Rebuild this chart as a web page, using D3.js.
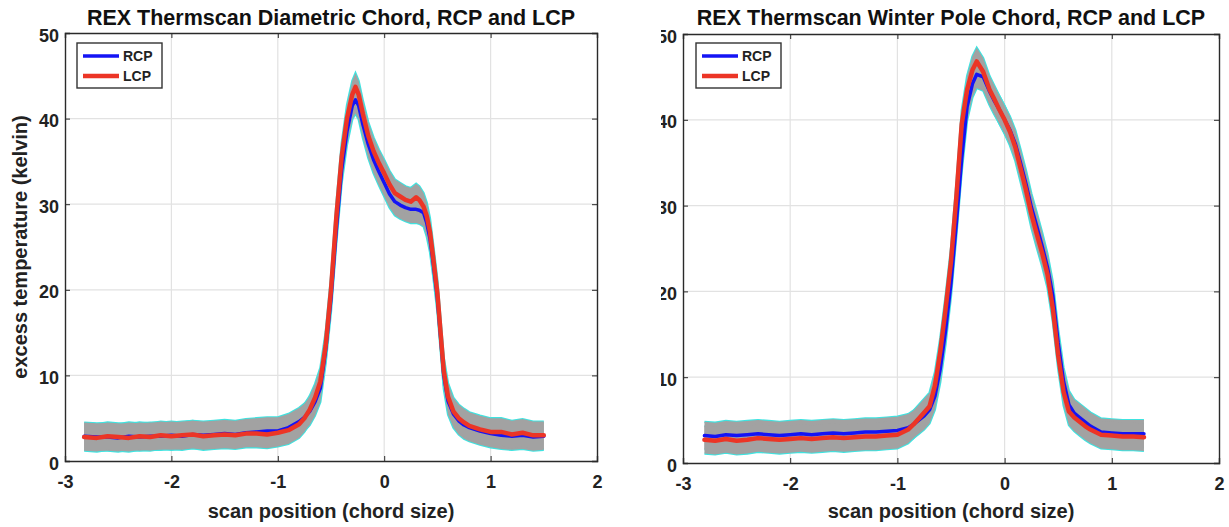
<!DOCTYPE html>
<html>
<head>
<meta charset="utf-8">
<script src="https://cdn.jsdelivr.net/npm/d3@7"></script>
<style>
  html, body { margin: 0; padding: 0; background: #fff; }
  svg { display: block; font-family: "Liberation Sans", Arial, Helvetica, sans-serif; }
</style>
</head>
<body>
<svg id="chart" width="1229" height="527"></svg>
<script>
// ---------- DATA ----------
const xTicks = [-3, -2, -1, 0, 1, 2];
const yTicks = [0, 10, 20, 30, 40, 50];
const seriesNames = ["RCP", "LCP"];
const titles = [
  "REX Thermscan Diametric Chord, RCP and LCP",
  "REX Thermscan Winter Pole Chord, RCP and LCP"
];
const xLabel = "scan position (chord size)";
const yLabel = "excess temperature (kelvin)";
const bandHalfWidth = 1.6; // error-band half width (kelvin)

// Diametric chord
const diaX   = [-2.82,-2.7,-2.6,-2.5,-2.4,-2.3,-2.2,-2.1,-2.0,-1.9,-1.8,-1.7,-1.6,-1.5,-1.4,-1.3,-1.2,-1.1,-1.0,-0.9,-0.8,-0.75,-0.7,-0.65,-0.6,-0.55,-0.5,-0.45,-0.4,-0.35,-0.3,-0.27,-0.24,-0.2,-0.15,-0.1,-0.05,0,0.05,0.1,0.15,0.2,0.25,0.3,0.33,0.37,0.4,0.43,0.46,0.5,0.53,0.56,0.6,0.65,0.7,0.75,0.8,0.9,1.0,1.1,1.2,1.3,1.4,1.5];
const diaRCP = [2.9,2.8,2.8,2.7,2.9,2.8,2.9,2.9,3.0,2.9,3.1,3.0,3.1,3.2,3.1,3.3,3.4,3.5,3.5,3.9,4.6,5.1,5.8,6.9,8.5,13.0,19.0,27.0,34.0,38.5,41.5,42.2,41.5,39.3,37.0,35.2,33.8,32.5,31.2,30.3,29.9,29.6,29.4,29.4,29.3,29.0,27.8,26.0,23.2,19.0,14.5,10.0,7.0,5.5,4.7,4.2,3.9,3.5,3.2,3.0,2.9,3.0,2.8,2.9];
const diaLCP = [2.8,2.7,2.9,2.8,2.7,2.9,2.8,3.0,2.9,3.0,3.1,2.9,3.0,3.1,3.0,3.2,3.2,3.1,3.3,3.6,4.3,5.0,6.0,7.4,9.3,13.5,20.0,28.5,35.5,40.0,42.8,43.7,42.8,40.5,38.0,36.2,34.8,33.6,32.3,31.3,30.9,30.5,30.3,30.8,30.5,29.7,28.6,26.8,23.8,19.6,15.0,10.5,7.5,5.8,5.0,4.5,4.1,3.7,3.4,3.4,3.1,3.3,3.0,3.0];

// Winter pole chord
const wpX   = [-2.8,-2.7,-2.6,-2.5,-2.4,-2.3,-2.2,-2.1,-2.0,-1.9,-1.8,-1.7,-1.6,-1.5,-1.4,-1.3,-1.2,-1.1,-1.0,-0.9,-0.85,-0.8,-0.75,-0.7,-0.65,-0.6,-0.55,-0.5,-0.45,-0.4,-0.35,-0.3,-0.26,-0.2,-0.14,-0.1,-0.05,0,0.05,0.1,0.15,0.2,0.25,0.3,0.35,0.4,0.45,0.5,0.55,0.6,0.65,0.7,0.75,0.8,0.9,1.0,1.1,1.2,1.3];
const wpRCP = [3.2,3.1,3.3,3.2,3.3,3.4,3.3,3.2,3.3,3.4,3.3,3.4,3.5,3.4,3.5,3.6,3.6,3.7,3.8,4.1,4.5,5.0,5.5,6.2,7.8,11.0,15.5,21.0,28.0,35.5,41.5,44.2,45.3,45.0,43.3,42.3,41.2,40.0,38.8,37.2,34.9,32.5,29.8,27.6,25.3,22.8,19.5,14.0,9.5,6.8,5.8,5.3,4.8,4.3,3.6,3.5,3.4,3.4,3.4];
const wpLCP = [2.7,2.6,2.8,2.6,2.7,2.9,2.8,2.7,2.8,2.9,2.8,2.9,3.0,2.9,3.0,3.1,3.1,3.2,3.3,3.9,4.5,5.2,5.9,6.6,9.0,13.0,18.0,23.5,31.0,39.5,43.5,45.8,46.8,45.6,43.5,42.5,41.2,40.0,38.6,36.8,34.3,31.8,29.0,26.7,24.5,22.0,18.0,12.5,8.3,6.0,5.3,4.8,4.3,3.9,3.3,3.2,3.1,3.1,3.0];

// ---------- DRAW ----------
const svg = d3.select("#chart");
const defs = svg.append("defs");
const colors = { RCP: "#1414f5", LCP: "#ec3526" };
const widths = { RCP: 3.5, LCP: 4.5 };
const fmt = d => String(d);

const panels = [
  { title: titles[0], xs: diaX, RCP: diaRCP, LCP: diaLCP, left: 65, right: 597, top: 33, bottom: 461, ylab: true, clipX: null, legX: 77 },
  { title: titles[1], xs: wpX, RCP: wpRCP, LCP: wpLCP, left: 683, right: 1219, top: 34, bottom: 463, ylab: false, clipX: 661, legX: 696 }
];

panels.forEach((p, pi) => {
  const x = d3.scaleLinear().domain([-3, 2]).range([p.left, p.right]);
  const y = d3.scaleLinear().domain([0, 50]).range([p.bottom, p.top]);
  const g = svg.append("g");

  // grid
  g.append("g").selectAll("line").data(xTicks.slice(1, -1)).join("line")
    .attr("x1", d => x(d)).attr("x2", d => x(d)).attr("y1", p.top).attr("y2", p.bottom)
    .attr("stroke", "#e2e2e2").attr("stroke-width", 1.2);
  g.append("g").selectAll("line").data(yTicks.slice(1, -1)).join("line")
    .attr("x1", p.left).attr("x2", p.right).attr("y1", d => y(d)).attr("y2", d => y(d))
    .attr("stroke", "#e2e2e2").attr("stroke-width", 1.2);

  const pts = name => p.xs.map((xv, i) => [xv, p[name][i]]);

  // error bands: cyan edges then gray fill
  seriesNames.forEach(name => {
    const data = pts(name);
    const edge = off => d3.line().x(d => x(d[0])).y(d => y(d[1] + off))(data);
    g.append("path").attr("d", edge(bandHalfWidth)).attr("fill", "none").attr("stroke", "#3fe3e0").attr("stroke-width", 2.2);
    g.append("path").attr("d", edge(-bandHalfWidth)).attr("fill", "none").attr("stroke", "#3fe3e0").attr("stroke-width", 2.2);
  });
  seriesNames.forEach(name => {
    const area = d3.area().x(d => x(d[0])).y0(d => y(d[1] - bandHalfWidth)).y1(d => y(d[1] + bandHalfWidth));
    g.append("path").attr("d", area(pts(name))).attr("fill", "#a2a2a2");
  });
  // lines
  seriesNames.forEach(name => {
    const line = d3.line().x(d => x(d[0])).y(d => y(d[1]));
    g.append("path").attr("d", line(pts(name))).attr("fill", "none")
      .attr("stroke", colors[name]).attr("stroke-width", widths[name])
      .attr("stroke-linejoin", "round").attr("stroke-linecap", "round");
  });

  // axes
  const axCol = "#2a2a2a";
  const bottomAx = g.append("g").attr("transform", `translate(0,${p.bottom})`)
    .call(d3.axisBottom(x).tickValues(xTicks).tickSize(-5).tickPadding(16).tickFormat(fmt));
  const topAx = g.append("g").attr("transform", `translate(0,${p.top})`)
    .call(d3.axisTop(x).tickValues(xTicks).tickSize(-5).tickFormat(""));
  let leftWrap = g.append("g");
  if (p.clipX !== null) {
    const cid = "clipTicks" + pi;
    defs.append("clipPath").attr("id", cid)
      .append("rect").attr("x", p.clipX).attr("y", 0).attr("width", 1229 - p.clipX).attr("height", 527);
    leftWrap.attr("clip-path", `url(#${cid})`);
  }
  const leftAx = leftWrap.append("g").attr("transform", `translate(${p.left},0)`)
    .call(d3.axisLeft(y).tickValues(yTicks).tickSize(-5).tickPadding(6).tickFormat(fmt));
  const rightAx = g.append("g").attr("transform", `translate(${p.right},0)`)
    .call(d3.axisRight(y).tickValues(yTicks).tickSize(-5).tickFormat(""));
  [bottomAx, topAx, leftAx, rightAx].forEach(a => {
    a.select(".domain").attr("stroke", axCol).attr("stroke-width", 1.4);
    a.selectAll(".tick line").attr("stroke", axCol).attr("stroke-width", 1);
    a.selectAll("text").attr("fill", "#222").attr("font-size", 18).attr("font-weight", "bold").attr("font-family", null);
  });
  leftAx.selectAll("text").attr("dy", "0.45em");
  bottomAx.selectAll("text").attr("dy", "0.62em");

  // title
  g.append("text").attr("x", (p.left + p.right) / 2).attr("y", 25)
    .attr("text-anchor", "middle").attr("font-size", 21.5).attr("font-weight", "bold").attr("fill", "#111")
    .text(p.title);
  // x label
  g.append("text").attr("x", (p.left + p.right) / 2).attr("y", 518)
    .attr("text-anchor", "middle").attr("font-size", 20).attr("font-weight", "bold").attr("fill", "#222")
    .text(xLabel);
  if (p.ylab) {
    g.append("text").attr("transform", `translate(27,${(p.top + p.bottom) / 2}) rotate(-90)`)
      .attr("text-anchor", "middle").attr("font-size", 20).attr("font-weight", "bold").attr("fill", "#222")
      .text(yLabel);
  }

  // legend
  const lg = g.append("g").attr("transform", `translate(${p.legX},43)`);
  lg.append("rect").attr("x", 0).attr("y", 0).attr("width", 85).attr("height", 45)
    .attr("fill", "#fff").attr("stroke", "#333").attr("stroke-width", 1.4);
  seriesNames.forEach((name, i) => {
    const ly = 13 + i * 20;
    lg.append("line").attr("x1", 6).attr("x2", 42).attr("y1", ly).attr("y2", ly)
      .attr("stroke", colors[name]).attr("stroke-width", widths[name]);
    lg.append("text").attr("x", 46).attr("y", ly + 5).attr("font-size", 14).attr("font-weight", "bold")
      .attr("fill", "#222").text(name);
  });
});
</script>
</body>
</html>
